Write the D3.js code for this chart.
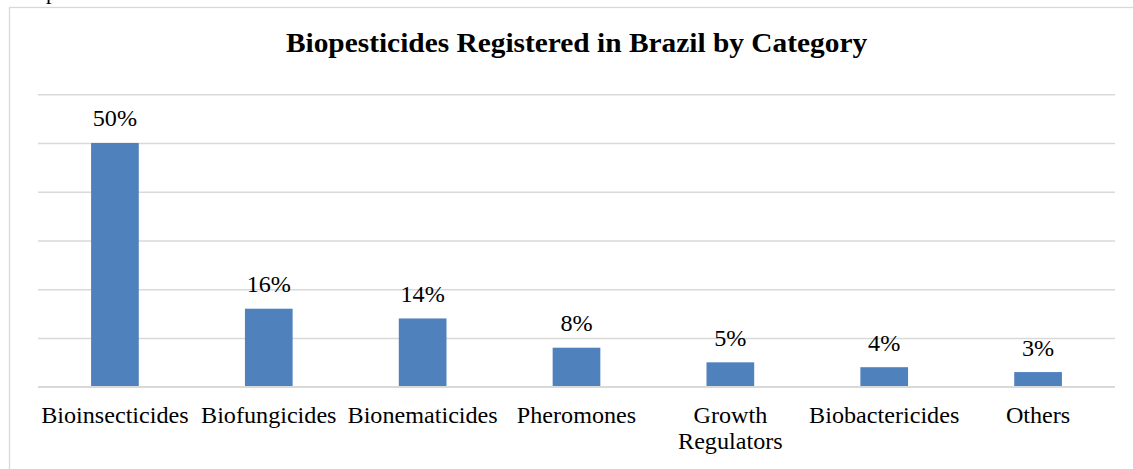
<!DOCTYPE html>
<html>
<head>
<meta charset="utf-8">
<script src="https://cdn.jsdelivr.net/npm/d3@7"></script>
<style>
  html, body { margin: 0; padding: 0; background: #fff; }
  svg { display: block; }
</style>
</head>
<body>
<svg id="chart" width="1133" height="469"></svg>
<script>
const title = "Biopesticides Registered in Brazil by Category";
const categories = ["Bioinsecticides", "Biofungicides", "Bionematicides", "Pheromones", "Growth Regulators", "Biobactericides", "Others"];
const categoryLines = [["Bioinsecticides"], ["Biofungicides"], ["Bionematicides"], ["Pheromones"], ["Growth", "Regulators"], ["Biobactericides"], ["Others"]];
const values = [50, 16, 14, 8, 5, 4, 3];
const gridTicks = [0, 10, 20, 30, 40, 50, 60];

const svg = d3.select("#chart");
const font = "'Liberation Serif', 'Times New Roman', serif";
const SX = 1.05; // horizontal stretch of reference text

// outer frame (cut off on right/bottom)
svg.append("rect").attr("x", 9.5).attr("y", 7.5).attr("width", 1140).attr("height", 480)
  .attr("fill", "#fff").attr("stroke", "#d9d9d9").attr("stroke-width", 1.3);

// cut-off text fragment at top left
svg.append("text").attr("x", 46).attr("y", -1.5).attr("font-family", font).attr("font-size", 22)
  .attr("fill", "#000").text("p");

const x = d3.scaleBand().domain(categories).range([38, 1115]).paddingInner(0.69).paddingOuter(0.345);
const y = d3.scaleLinear().domain([0, 60]).range([386.7, 94.2]);

// gridlines
const yAxis = d3.axisLeft(y).tickValues(gridTicks).tickSize(-(1115 - 38)).tickFormat("");
const gAxis = svg.append("g").attr("transform", "translate(38,0)").call(yAxis);
gAxis.select(".domain").remove();
gAxis.selectAll(".tick line").attr("stroke", "#d9d9d9").attr("stroke-width", 1.5);

// bars
svg.append("g").selectAll("rect").data(values).join("rect")
  .attr("x", (d, i) => x(categories[i]))
  .attr("width", x.bandwidth())
  .attr("y", d => y(d))
  .attr("height", d => y(0) - y(d))
  .attr("fill", "#4f81bd");

// redraw baseline on top
svg.append("line").attr("x1", 38).attr("x2", 1115).attr("y1", y(0)).attr("y2", y(0))
  .attr("stroke", "#d9d9d9").attr("stroke-width", 1.5);

// data labels
svg.append("g").selectAll("g").data(values).join("g")
  .attr("transform", (d, i) => `translate(${x(categories[i]) + x.bandwidth() / 2},${y(d) - 16.5}) scale(${SX},1)`)
  .append("text")
  .attr("text-anchor", "middle")
  .attr("font-family", font).attr("font-size", 23).attr("fill", "#000")
  .text(d => d + "%");

// category labels
const cat = svg.append("g").selectAll("g").data(categoryLines).join("g")
  .attr("transform", (d, i) => `translate(${x(categories[i]) + x.bandwidth() / 2},422.5) scale(${SX},1)`)
  .append("text")
  .attr("text-anchor", "middle")
  .attr("font-family", font).attr("font-size", 23).attr("fill", "#000");
cat.selectAll("tspan").data(d => d).join("tspan")
  .attr("x", 0)
  .attr("dy", (d, i) => i === 0 ? 0 : 26.5)
  .text(d => d);

// title
svg.append("g").attr("transform", `translate(576.5,52.3) scale(${SX},1)`)
  .append("text").attr("text-anchor", "middle")
  .attr("font-family", font).attr("font-size", 28).attr("font-weight", "bold").attr("fill", "#000")
  .text(title);
</script>
</body>
</html>
